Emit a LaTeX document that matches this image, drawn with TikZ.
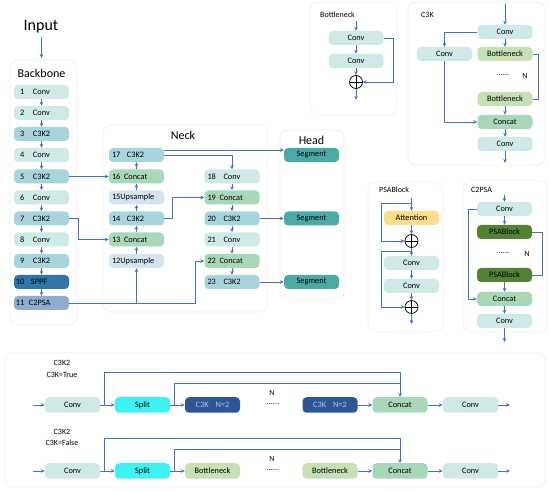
\documentclass[tikz,border=0pt]{standalone}
\usepackage{fontspec}
\setmainfont{Carlito}
\usetikzlibrary{arrows.meta,calc}
\definecolor{ablue}{HTML}{4472C4}
\definecolor{cconv}{HTML}{CFE9E6}
\definecolor{cckk}{HTML}{A8D4DC}
\definecolor{csppf}{HTML}{2F76A8}
\definecolor{cpsa}{HTML}{8EACCB}
\definecolor{ccat}{HTML}{A9D8B8}
\definecolor{cups}{HTML}{D5E5EF}
\definecolor{cseg}{HTML}{4AABA6}
\definecolor{cbott}{HTML}{C5E0B4}
\definecolor{catt}{HTML}{FCDD8A}
\definecolor{cpsab}{HTML}{548235}
\definecolor{csplit}{HTML}{3CF2F2}
\definecolor{cck}{HTML}{2F5597}
\definecolor{cckt}{HTML}{B4C7E7}
\definecolor{cpanel}{HTML}{EEEEEE}
\begin{document}
\begin{tikzpicture}[x=1pt,y=-1pt,
  box/.style={rounded corners=4pt, minimum width=55pt, minimum height=14pt, inner sep=0pt, font=\fontsize{8.3}{9}\selectfont},
  bbox/.style={box, inner xsep=6pt, text width=43pt, align=left},
  nbox/.style={box, inner xsep=3pt, text width=49pt, align=left},
  lbox/.style={box, minimum height=15.5pt},
  arr/.style={-{Stealth[length=4pt,width=3.6pt]}, line width=0.8pt, draw=ablue},
  ln/.style={line width=0.8pt, draw=ablue},
  panel/.style={draw=cpanel, rounded corners=8pt, line width=0.7pt},
  plab/.style={font=\fontsize{8}{9}\selectfont, anchor=west, inner sep=0pt},
  title/.style={font=\fontsize{12}{13}\selectfont, inner sep=0pt},
  sumc/.style={circle, draw=black, line width=0.7pt, minimum size=13pt, inner sep=0pt,
    path picture={\draw[black, line width=0.7pt] (path picture bounding box.north) -- (path picture bounding box.south) (path picture bounding box.west) -- (path picture bounding box.east);}}
]
\useasboundingbox (0,0) rectangle (550,492);
% panels
\draw[panel] (10,60) rectangle (77,325);
\draw[panel] (103,125) rectangle (267,312);
\draw[panel] (280,130) rectangle (344,300);
\draw[panel] (310,2) rectangle (397,115);
\draw[panel] (408,2) rectangle (545,165);
\draw[panel] (368,182) rectangle (443,332);
\draw[panel] (463,180) rectangle (547,332);
\draw[panel] (5,353) rectangle (545,487);

% ---------- Backbone ----------
\node[font=\fontsize{16}{17}\selectfont, inner sep=0pt] (inp) at (41,27) {Input};
\node[title] (bbl) at (41.5,73) {Backbone};
\coordinate (bbin) at (41.5,58);
\coordinate (inpb) at (41.5,37);
\draw[arr] (inpb) -- (bbin);
\node[bbox, fill=cconv] (b1) at (41.5,92) {\makebox[13pt][l]{1}Conv};
\node[bbox, fill=cconv] (b2) at (41.5,113) {\makebox[13pt][l]{2}Conv};
\node[bbox, fill=cckk] (b3) at (41.5,134) {\makebox[13pt][l]{3}C3K2};
\node[bbox, fill=cconv] (b4) at (41.5,155) {\makebox[13pt][l]{4}Conv};
\node[bbox, fill=cckk] (b5) at (41.5,176.5) {\makebox[13pt][l]{5}C3K2};
\node[bbox, fill=cconv] (b6) at (41.5,197.5) {\makebox[13pt][l]{6}Conv};
\node[bbox, fill=cckk] (b7) at (41.5,218.5) {\makebox[13pt][l]{7}C3K2};
\node[bbox, fill=cconv] (b8) at (41.5,239.5) {\makebox[13pt][l]{8}Conv};
\node[bbox, fill=cckk] (b9) at (41.5,261) {\makebox[13pt][l]{9}C3K2};
\node[bbox, fill=csppf, inner xsep=2pt, text width=51pt] (b10) at (41.5,282) {\makebox[15pt][l]{10}SPPF};
\node[bbox, fill=cpsa, inner xsep=2pt, text width=51pt] (b11) at (41.5,303) {\makebox[13pt][l]{11}C2PSA};
\foreach \a/\b in {1/2,2/3,3/4,4/5,5/6,6/7,7/8,8/9,9/10,10/11}
  \draw[arr] (b\a.south) -- (b\b.north);

% ---------- Neck ----------
\node[title] (nkl) at (183,135) {Neck};
\node[nbox, fill=cckk] (n17) at (136.5,155) {\makebox[15pt][l]{17}C3K2};
\node[nbox, fill=ccat] (n16) at (136.5,176.5) {\makebox[12pt][l]{16}Concat};
\node[nbox, fill=cups] (n15) at (136.5,197.5) {15Upsample};
\node[nbox, fill=cckk] (n14) at (136.5,218.5) {\makebox[15pt][l]{14}C3K2};
\node[nbox, fill=ccat] (n13) at (136.5,239.5) {\makebox[12pt][l]{13}Concat};
\node[nbox, fill=cups] (n12) at (136.5,261) {12Upsample};
\node[nbox, fill=cconv] (n18) at (232,176.5) {\makebox[16pt][l]{18}Conv};
\node[nbox, fill=ccat] (n19) at (232,197.5) {\makebox[12pt][l]{19}Concat};
\node[nbox, fill=cckk] (n20) at (232,218.5) {\makebox[16pt][l]{20}C3K2};
\node[nbox, fill=cconv] (n21) at (232,239.5) {\makebox[16pt][l]{21}Conv};
\node[nbox, fill=ccat] (n22) at (232,261) {\makebox[12pt][l]{22}Concat};
\node[nbox, fill=cckk] (n23) at (232,282) {\makebox[16pt][l]{23}C3K2};
\foreach \a/\b in {12/13,13/14,14/15,15/16,16/17}
  \draw[arr] (n\a.north) -- (n\b.south);
\foreach \a/\b in {18/19,19/20,20/21,21/22,22/23}
  \draw[arr] (n\a.south) -- (n\b.north);

% ---------- Head ----------
\node[title] (hdl) at (311.5,140) {Head};
\node[box, fill=cseg] (s1) at (311.5,155) {Segment};
\node[box, fill=cseg] (s2) at (311.5,218.5) {Segment};
\node[box, fill=cseg] (s3) at (311.5,282) {Segment};

% backbone/neck/head connectors
\coordinate (j1) at (195,303);
\coordinate (j2) at (78,218.5);
\coordinate (j3) at (172,218.5);
\draw[arr] (b11.east) -| (n12.south);
\draw[arr] (b11.east) -- (j1) |- (n22.west);
\draw[arr] (b5.east) -- (n16.west);
\draw[arr] (b7.east) -- (j2) |- (n13.west);
\draw[arr] (n14.east) -- (j3) |- (n19.west);
\draw[arr] ([yshift=5pt]n17.east) -- ([yshift=5pt]n17.east -| s1.west);
\draw[arr] (n17.east) -| (n18.north);
\draw[arr] (n20.east) -- (s2.west);
\draw[arr] (n23.east) -- (s3.west);

% ---------- Bottleneck ----------
\node[plab] (btl) at (320,15) {Bottleneck};
\coordinate (bt) at (356,21);
\node[box, fill=cconv] (bc1) at (356,38) {Conv};
\node[box, fill=cconv] (bc2) at (356,61) {Conv};
\node[sumc] (bp) at (356,82) {};
\coordinate (bo) at (356,100);
\draw[arr] (bt) -- (bc1.north);
\draw[arr] (bc1.south) -- (bc2.north);
\draw[arr] (bc2.south) -- (bp.north);
\draw[arr] (bp.south) -- (bo);
\draw[arr] (bc1.east) -- (bc1.east -| 393,0) |- (bp.east);

% ---------- C3K ----------
\node[plab] (c3l) at (421,15) {C3K};
\coordinate (kt) at (505,4);
\node[box, fill=cconv] (k1) at (505,32) {Conv};
\node[box, fill=cconv] (kl) at (444.5,54) {Conv};
\node[box, fill=cbott] (kb1) at (505,54) {Bottleneck};
\node[font=\fontsize{8}{9}\selectfont, inner sep=0pt] (kd) at (503,75) {......};
\node[font=\fontsize{8}{9}\selectfont, inner sep=0pt] (kn) at (525,76) {N};
\node[box, fill=cbott] (kb2) at (505,99) {Bottleneck};
\node[box, fill=ccat] (kc) at (505,122) {Concat};
\node[box, fill=cconv] (k2) at (505,144) {Conv};
\coordinate (ko) at (505,163);
\draw[arr] (kt) -- (k1.north);
\draw[arr] (k1.south) -- (kb1.north);
\draw[arr] (k1.west) -| (kl.north);
\draw[arr] (kl.south) |- (kc.west);
\draw[ln] (kb1.east) -- (kb1.east -| 538,0) |- (kb2.east);
\draw[arr] (kb2.south) -- (kc.north);
\draw[arr] (kc.south) -- (k2.north);
\draw[arr] (k2.south) -- (ko);

% ---------- PSABlock ----------
\node[plab] (psl) at (379,190) {PSABlock};
\coordinate (pt) at (411.5,198);
\coordinate (ps1) at (411.5,203);
\node[box, fill=catt] (pa) at (411.5,218) {Attention};
\node[sumc] (pp1) at (411.5,241) {};
\coordinate (ps2) at (411.5,251);
\node[box, fill=cconv] (pc1) at (411.5,263) {Conv};
\node[box, fill=cconv] (pc2) at (411.5,286) {Conv};
\node[sumc] (pp2) at (411.5,307) {};
\coordinate (po) at (411.5,324);
\draw[arr] (pt) -- (pa.north);
\draw[arr] (ps1) -- (381,203) |- (pp1.west);
\draw[arr] (pa.south) -- (pp1.north);
\draw[arr] (pp1.south) -- (pc1.north);
\draw[arr] (ps2) -- (381,251) |- (pp2.west);
\draw[arr] (pc1.south) -- (pc2.north);
\draw[arr] (pc2.south) -- (pp2.north);
\draw[arr] (pp2.south) -- (po);

% ---------- C2PSA ----------
\node[plab] (cpl) at (471,190) {C2PSA};
\coordinate (qt) at (504.5,195);
\node[box, fill=cconv] (qc1) at (504.5,209) {Conv};
\node[box, fill=cpsab] (qp1) at (504.5,232) {PSABlock};
\node[font=\fontsize{8}{9}\selectfont, inner sep=0pt] (qd) at (503,253) {......};
\node[font=\fontsize{8}{9}\selectfont, inner sep=0pt] (qn) at (527,254) {N};
\node[box, fill=cpsab] (qp2) at (504.5,275) {PSABlock};
\node[box, fill=ccat] (qq) at (504.5,299) {Concat};
\node[box, fill=cconv] (qc2) at (504.5,321) {Conv};
\coordinate (qo) at (504.5,342);
\draw[arr] (qt) -- (qc1.north);
\draw[arr] (qc1.south) -- (qp1.north);
\draw[arr] (qc1.west) -- (qc1.west -| 468,0) |- (qq.west);
\draw[ln] (qp1.east) -- (qp1.east -| 542,0) |- (qp2.east);
\draw[arr] (qp2.south) -- (qq.north);
\draw[arr] (qq.south) -- (qc2.north);
\draw[arr] (qc2.south) -- (qo);

% ---------- C3K2 detail ----------
\node[font=\fontsize{8}{9}\selectfont, inner sep=0pt] (tl1) at (62,363) {C3K2};
\node[font=\fontsize{8}{9}\selectfont, inner sep=0pt] (tl2) at (62,375) {C3K=True};
\coordinate (t0) at (33,405);
\node[lbox, fill=cconv] (tc) at (72.5,405) {Conv};
\node[lbox, fill=csplit] (ts) at (142.5,405) {Split};
\node[lbox, fill=cck, text=cckt] (tk1) at (212.5,405) {C3K\hspace{7pt}N=2};
\node[font=\fontsize{8}{9}\selectfont, inner sep=0pt] (td) at (273,404) {......};
\node[font=\fontsize{8}{9}\selectfont, inner sep=0pt] (tn) at (272,393) {N};
\node[lbox, fill=cck, text=cckt] (tk2) at (330,405) {C3K\hspace{7pt}N=2};
\node[lbox, fill=ccat] (tq) at (400,405) {Concat};
\node[lbox, fill=cconv] (tv) at (470.5,405) {Conv};
\coordinate (to) at (510,405);
\coordinate (tb1) at (104,405);
\coordinate (tb2) at (174,405);
\draw[arr] (t0) -- (tc.west);
\draw[arr] (tc.east) -- (ts.west);
\draw[arr] (ts.east) -- (tk1.west);
\draw[arr] (tk2.east) -- (tq.west);
\draw[arr] (tq.east) -- (tv.west);
\draw[arr] (tv.east) -- (to);
\draw[arr] (tb1) -- (104,372) -| (tq.north);
\draw[ln] (tb2) |- (400,383);

\node[font=\fontsize{8}{9}\selectfont, inner sep=0pt] (fl1) at (62,432) {C3K2};
\node[font=\fontsize{8}{9}\selectfont, inner sep=0pt] (fl2) at (62,443) {C3K=False};
\coordinate (f0) at (33,471);
\node[lbox, fill=cconv] (fc) at (72.5,471) {Conv};
\node[lbox, fill=csplit] (fs) at (142.5,471) {Split};
\node[lbox, fill=cbott] (fk1) at (212.5,471) {Bottleneck};
\node[font=\fontsize{8}{9}\selectfont, inner sep=0pt] (fd) at (273,470) {......};
\node[font=\fontsize{8}{9}\selectfont, inner sep=0pt] (fn) at (272,459) {N};
\node[lbox, fill=cbott] (fk2) at (330,471) {Bottleneck};
\node[lbox, fill=ccat] (fq) at (400,471) {Concat};
\node[lbox, fill=cconv] (fv) at (470.5,471) {Conv};
\coordinate (fo) at (510,471);
\coordinate (fb1) at (104,471);
\coordinate (fb2) at (174,471);
\draw[arr] (f0) -- (fc.west);
\draw[arr] (fc.east) -- (fs.west);
\draw[arr] (fs.east) -- (fk1.west);
\draw[arr] (fk2.east) -- (fq.west);
\draw[arr] (fq.east) -- (fv.west);
\draw[arr] (fv.east) -- (fo);
\draw[arr] (fb1) -- (104,438) -| (fq.north);
\draw[ln] (fb2) |- (400,449);
\end{tikzpicture}
\end{document}
